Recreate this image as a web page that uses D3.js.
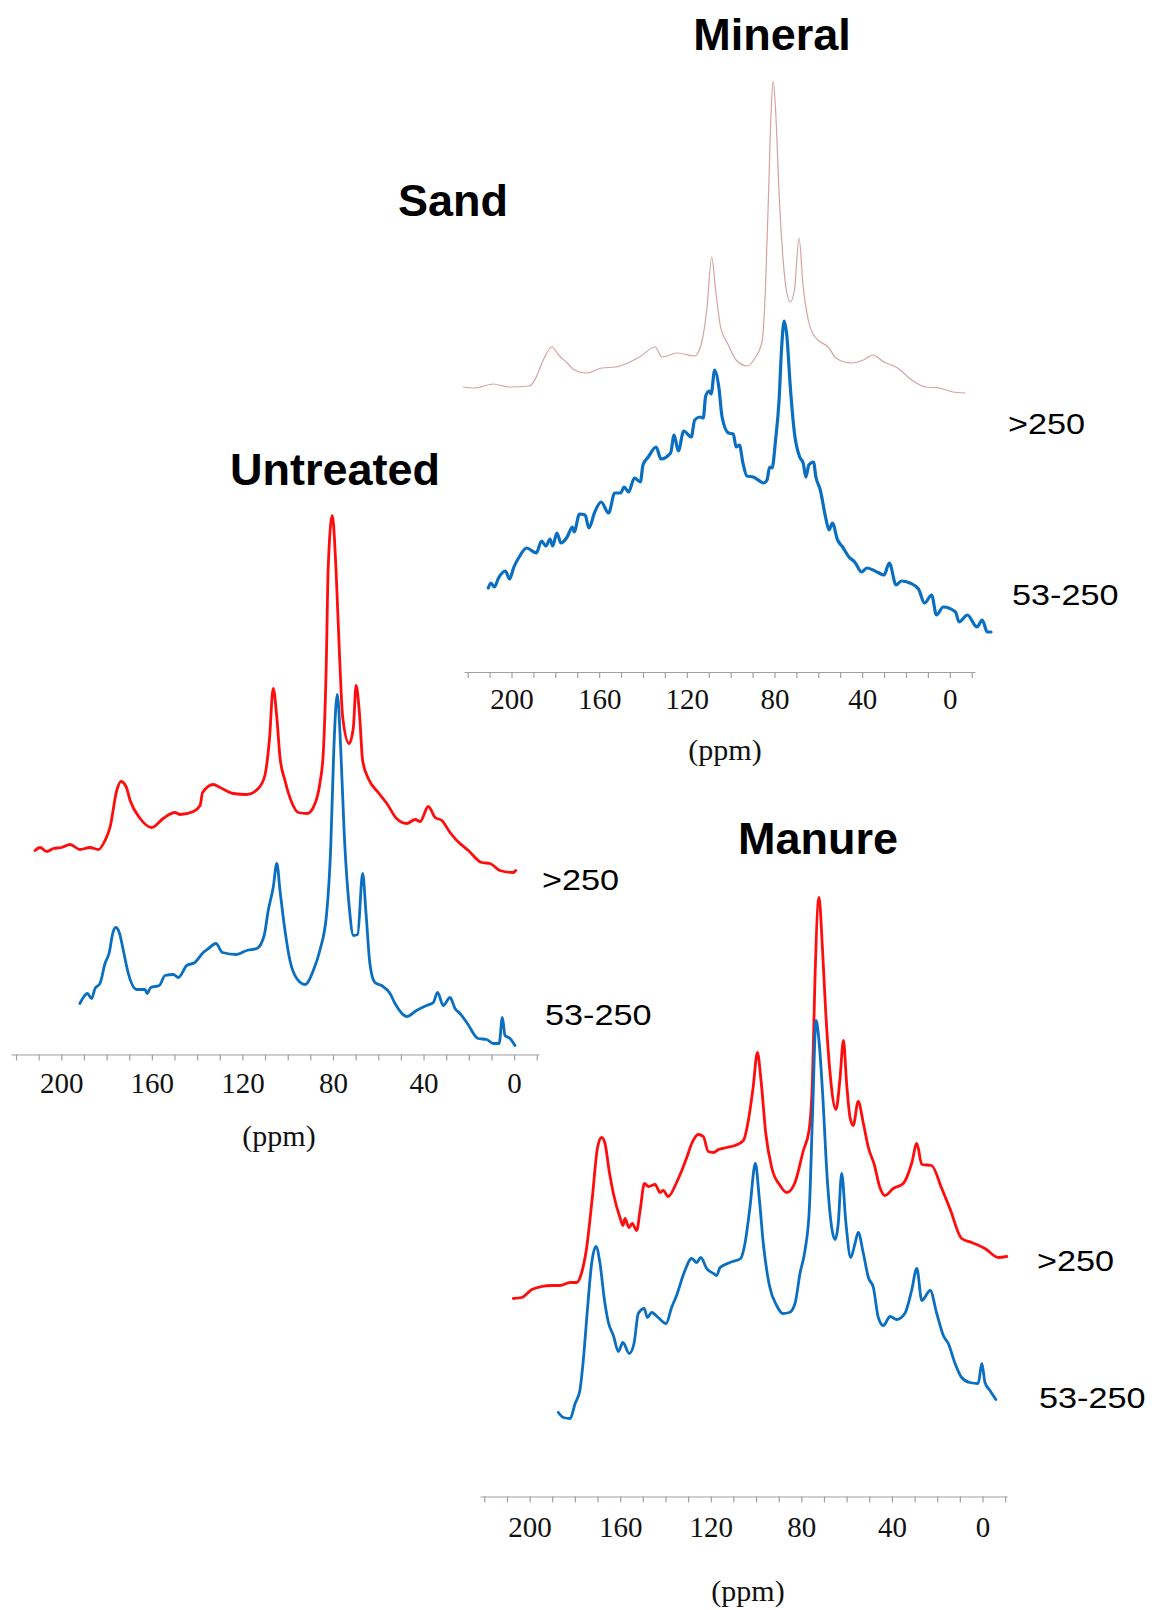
<!DOCTYPE html>
<html>
<head>
<meta charset="utf-8">
<script src="https://cdn.jsdelivr.net/npm/d3@7"></script>
<style>
html,body{margin:0;padding:0;background:#fff;}
svg{display:block;}
</style>
</head>
<body>
<script>
// ---------- DATA (chemical shift in ppm, intensity in arbitrary units) ----------
const tickLabels = [200, 160, 120, 80, 40, 0];
const panelTitles = ["Sand", "Mineral", "Untreated", "Manure"];
const seriesLabels = [">250", "53-250"];

// Sand panel, Mineral >250 (thin pink trace)
const sandGtPpm = [222.0,217.0,208.3,201.2,191.8,189.4,185.5,181.6,178.5,174.6,171.4,165.9,158.8,152.5,147.0,141.6,134.5,131.3,124.3,116.4,113.3,110.9,108.6,107.0,104.6,101.5,97.5,92.4,88.9,85.8,84.2,82.7,81.5,80.6,79.5,77.9,76.3,74.8,72.8,70.9,68.8,66.9,64.6,61.5,55.1,52.0,45.0,39.4,35.1,30.0,23.8,17.4,11.2,4.9,-1.4,-6.9];
const sandGtInt = [285,284,288,285,286,292,312,325,317,309,302,299,304,305,309,315,325,315,319,316,329,362,415,385,345,329,312,306,314,329,379,479,562,591,562,479,419,385,370,382,434,385,352,335,324,314,309,312,317,310,304,292,285,284,280,279];

// Sand panel, 53-250 (blue)
const sandSmPpm = [210.6,209.4,207.8,205.9,202.8,200.9,198.9,196.5,193.1,188.7,186.3,184.3,182.4,181.2,179.3,177.4,174.6,172.2,171.4,169.0,166.4,164.7,162.0,159.1,155.7,152.9,150.2,148.6,146.6,143.9,141.2,140.0,137.6,134.0,131.8,127.4,125.8,123.9,121.4,118.0,116.4,114.0,112.5,111.4,109.8,108.9,107.3,105.4,103.9,101.0,98.8,97.5,96.0,94.4,92.6,89.7,87.4,85.0,83.4,82.2,81.1,79.5,77.9,76.8,75.6,74.3,72.9,70.9,68.5,66.9,65.7,64.3,62.2,61.1,59.1,56.7,55.1,53.6,51.2,48.9,46.0,43.4,40.2,37.9,33.2,30.0,27.6,24.5,22.1,18.2,14.3,11.5,8.3,6.1,3.0,-2.6,-4.2,-8.0,-12.4,-14.8,-17.1,-18.8];
const sandSmInt = [84,89,85,94,101,93,105,115,124,119,131,126,133,126,139,129,135,145,140,158,157,144,160,170,159,179,179,185,180,194,190,207,215,225,213,219,237,221,241,235,252,255,254,276,281,278,302,285,255,239,238,225,227,209,196,195,192,189,192,205,204,232,272,322,351,335,289,239,215,209,195,207,210,195,182,155,142,149,132,125,115,110,100,104,100,97,109,87,91,89,83,69,77,57,65,60,50,57,45,52,40,40];

// Untreated panel, >250 (red)
const untrGtPpm = [211.6,209.4,206.4,203.5,199.8,196.1,191.8,187.3,183.6,180.7,178.5,175.5,173.7,171.4,169.6,165.2,160.0,155.0,149.8,147.5,141.7,138.7,137.6,132.8,129.9,124.0,118.1,113.0,110.1,108.1,106.4,104.8,103.4,101.2,98.2,95.3,91.4,88.7,85.8,84.3,83.0,82.1,80.3,78.7,77.2,75.7,72.9,71.0,69.8,68.3,66.9,64.4,60.0,56.2,51.9,47.4,43.7,41.5,37.9,34.9,31.9,28.3,25.3,20.2,14.3,10.6,6.3,0.4,-0.7];
const untrGtInt = [204,207,203,206,207,210,205,207,205,214,227,264,273,268,254,236,227,236,242,240,243,249,262,270,267,261,260,266,279,314,366,337,297,274,252,242,241,247,271,301,387,487,539,487,404,337,311,327,369,341,294,276,262,251,236,231,235,233,248,237,234,222,214,204,192,191,184,182,184];

// Untreated panel, 53-250 (blue)
const untrSmPpm = [191.8,190.3,188.5,186.6,185.1,182.9,180.7,178.8,177.3,176.0,174.4,172.6,170.4,166.7,163.0,162.1,160.5,156.7,154.2,150.5,148.3,144.6,141.0,137.3,135.0,131.7,128.8,122.6,118.1,113.6,110.4,108.6,106.4,104.8,103.4,101.2,99.0,96.0,92.3,88.7,85.8,82.8,81.0,79.6,78.1,76.6,75.1,72.8,71.0,69.1,66.9,65.4,63.7,61.5,58.5,54.8,52.6,47.4,43.1,38.6,35.7,33.8,31.3,28.3,26.1,23.9,20.9,15.9,12.1,9.2,6.6,5.2,4.0,1.8,-0.4];
const untrSmInt = [51,57,61,56,66,71,91,102,121,127,122,104,81,65,65,61,67,69,79,80,77,89,92,102,106,111,102,100,104,106,119,144,167,191,164,124,94,76,70,84,104,141,207,307,360,307,224,147,119,120,181,141,91,72,69,61,51,38,44,49,52,62,49,57,46,41,32,16,15,11,11,37,19,16,9];

// Manure panel, >250 (red)
const manGtPpm = [207.2,203.5,199.0,194.7,190.2,186.6,182.1,179.2,177.0,174.8,172.3,170.0,168.2,166.7,164.9,163.0,160.1,158.7,157.9,156.1,154.7,152.7,151.2,149.3,147.5,144.6,142.4,141.0,138.8,135.1,132.8,130.6,128.4,125.5,123.3,121.1,118.8,116.6,112.9,109.3,105.6,103.4,101.3,99.4,97.8,95.7,93.1,89.4,86.4,82.8,79.1,76.6,75.1,74.0,72.2,70.7,69.2,67.3,64.7,63.0,61.4,60.0,58.5,57.1,54.9,52.6,50.4,47.8,45.3,43.1,39.4,35.0,31.3,29.0,26.8,22.5,18.0,14.4,9.2,4.8,-1.1,-7.0,-10.7];
const manGtInt = [198,199,207,210,211,211,214,214,224,249,299,349,359,353,326,303,279,271,278,269,273,266,286,313,310,312,304,306,300,314,326,339,353,362,360,345,344,347,349,351,356,376,409,444,416,363,329,311,304,314,346,366,416,516,599,549,483,423,387,416,456,413,379,371,395,373,349,332,309,301,308,313,333,353,332,331,308,288,258,254,248,239,240];

// Manure panel, 53-250 (blue)
const manSmPpm = [187.3,185.1,182.1,179.9,177.8,176.3,174.5,172.6,170.7,168.9,167.1,165.2,163.0,160.8,158.8,156.0,153.9,152.0,149.4,148.0,146.1,143.2,139.7,137.3,135.1,131.9,128.4,126.2,124.4,121.8,118.8,117.4,115.9,111.5,106.8,104.9,102.7,100.3,98.6,96.8,94.1,90.9,88.2,85.3,82.8,80.6,78.4,76.5,75.0,73.5,72.1,70.6,68.6,66.6,65.1,63.7,62.2,60.3,58.2,56.3,54.9,52.6,50.4,48.2,46.0,43.8,40.8,37.9,34.3,31.3,29.0,26.8,23.1,20.2,17.3,15.1,12.1,9.2,5.6,1.9,0.3,-1.1,-3.3,-5.9];
const manSmInt = [84,79,78,93,106,136,186,233,250,233,199,174,161,145,154,143,153,183,188,179,184,179,173,189,201,223,238,234,239,228,223,221,229,234,238,253,289,333,299,253,211,191,183,184,193,223,246,286,386,476,453,403,319,269,257,273,323,273,239,253,264,243,219,209,179,171,180,177,183,206,228,196,206,183,161,153,133,119,114,113,133,114,106,97];

// ---------- LAYOUT ----------
const W = 1156, H = 1610;
const svg = d3.select("body").append("svg").attr("width", W).attr("height", H);

const BLUE = "#0b6fc1", RED = "#ff0d0d", PINK = "#d4a2a2";

const panels = [
  { axisY: 672, x200: 511.5, x0: 949.8, lineFrom: 464, lineTo: 975, labelDy: 37, ppmX: 725, ppmY: 760,
    series: [
      { ppm: sandGtPpm, val: sandGtInt, color: PINK, width: 1.2 },
      { ppm: sandSmPpm, val: sandSmInt, color: BLUE, width: 3.2 }
    ] },
  { axisY: 1054.5, x200: 61.3, x0: 514.1, lineFrom: 11, lineTo: 539, labelDy: 38, ppmX: 279, ppmY: 1146,
    series: [
      { ppm: untrGtPpm, val: untrGtInt, color: RED, width: 2.8 },
      { ppm: untrSmPpm, val: untrSmInt, color: BLUE, width: 2.8 }
    ] },
  { axisY: 1496.5, x200: 529.6, x0: 982.5, lineFrom: 480, lineTo: 1007, labelDy: 40, ppmX: 748, ppmY: 1601,
    series: [
      { ppm: manGtPpm, val: manGtInt, color: RED, width: 2.8 },
      { ppm: manSmPpm, val: manSmInt, color: BLUE, width: 2.8 }
    ] }
];

panels.forEach(p => {
  const x = d3.scaleLinear().domain([200, 0]).range([p.x200, p.x0]);
  const y = d3.scaleLinear().domain([0, 100]).range([p.axisY, p.axisY - 100]);
  const g = svg.append("g");

  // axis
  const axScale = x.copy().domain([x.invert(p.lineFrom), x.invert(p.lineTo)]).range([p.lineFrom, p.lineTo]);
  const ax = d3.axisBottom(axScale)
    .tickValues(d3.range(-10, 221, 10))
    .tickSize(6).tickSizeOuter(0)
    .tickFormat(d => tickLabels.includes(d) ? String(d) : "");
  const axg = g.append("g").attr("transform", `translate(0,${p.axisY})`).call(ax);
  axg.select(".domain").attr("stroke", "#a0a0a0").attr("stroke-width", 1.2);
  axg.selectAll(".tick line").attr("stroke", "#a0a0a0").attr("stroke-width", 1.2);
  axg.selectAll(".tick text")
    .attr("y", p.labelDy).attr("dy", 0)
    .attr("font-family", "'Liberation Serif', 'Times New Roman', serif")
    .attr("font-size", 29).attr("fill", "#111");

  g.append("text").attr("x", p.ppmX).attr("y", p.ppmY)
    .attr("text-anchor", "middle")
    .attr("font-family", "'Liberation Serif', 'Times New Roman', serif")
    .attr("font-size", 30).attr("fill", "#111").text("(ppm)");

  // traces
  p.series.forEach(s => {
    const pts = s.ppm.map((d, i) => [d, s.val[i]]);
    const line = d3.line().x(d => x(d[0])).y(d => y(d[1])).curve(d3.curveMonotoneX);
    g.append("path").datum(pts)
      .attr("d", line)
      .attr("fill", "none")
      .attr("stroke", s.color)
      .attr("stroke-width", s.width)
      .attr("stroke-linejoin", "round")
      .attr("stroke-linecap", "round");
  });
});

// titles
const titlePos = [[453, 216], [772, 50], [335, 485], [818, 854]];
panelTitles.forEach((t, i) => {
  svg.append("text").attr("x", titlePos[i][0]).attr("y", titlePos[i][1])
    .attr("text-anchor", "middle")
    .attr("font-family", "'Liberation Sans', Arial, sans-serif")
    .attr("font-weight", "bold").attr("font-size", 45).attr("fill", "#000")
    .text(t);
});

// series labels
const labelPos = [
  [1008, 434], [1012, 605],
  [542, 890], [545, 1025],
  [1037, 1271], [1039, 1408]
];
labelPos.forEach((pos, i) => {
  svg.append("text")
    .attr("transform", `translate(${pos[0]},${pos[1]}) scale(1.16,1)`)
    .attr("font-family", "'Liberation Sans', Arial, sans-serif")
    .attr("font-size", 29.5).attr("fill", "#000")
    .text(seriesLabels[i % 2]);
});
</script>
</body>
</html>
